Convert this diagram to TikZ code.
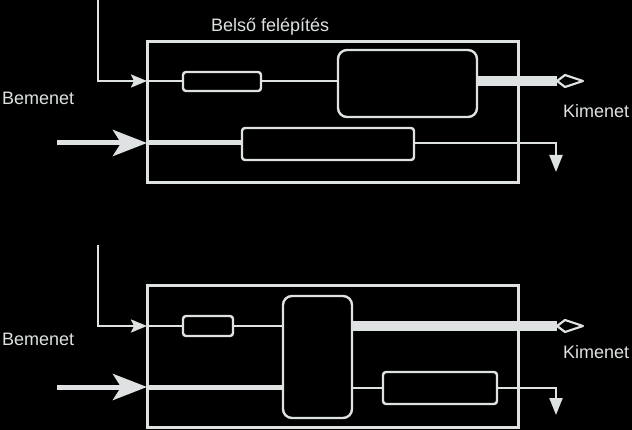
\documentclass[tikz,border=0pt]{standalone}
\usepackage{fontspec}
\setmainfont{Liberation Sans}
\usetikzlibrary{arrows.meta}
\definecolor{fg}{RGB}{222,226,226}
\begin{document}
\begin{tikzpicture}[x=1pt,y=-1pt,
  every node/.style={inner sep=0pt, outer sep=0pt},
  frame/.style={draw=fg, line width=3pt, rectangle},
  blk/.style={draw=fg, line width=2.4pt, rectangle, rounded corners=3pt},
  bigblk/.style={draw=fg, line width=2.4pt, rectangle, rounded corners=9pt},
  wire/.style={draw=fg, line width=2.2pt},
  thin in/.style={wire, -{Stealth[length=16pt, width=13pt, inset=3pt, fill=fg]}},
  thick in/.style={draw=fg, line width=5pt, -{Stealth[length=34pt, width=26pt, inset=8pt, fill=fg]}},
  thick wire/.style={draw=fg, line width=5pt},
  thick line/.style={draw=fg, line width=10pt},
  kite/.style={draw=fg, line width=2.2pt, line join=round, fill=black},
  drop/.style={wire, -{Triangle[length=17pt, width=13pt, fill=fg]}},
  lbl/.style={text=fg, font=\fontsize{18pt}{20pt}\selectfont, anchor=base west}
]
\fill[black] (0,0) rectangle (632,430);
\useasboundingbox (0,0) rectangle (632,430);

% ---------- top diagram ----------
\node[lbl] (title) at (211,32) {Belső felépítés};
\node[lbl] (bem1) at (2,105) {Bemenet};
\node[lbl] (kim1) at (563,118) {Kimenet};

\node[frame, minimum width=371pt, minimum height=141pt] (outer1) at (332.5,112.5) {};
\node[blk, minimum width=78pt, minimum height=19pt] (sA) at (222,81.5) {};
\node[bigblk, minimum width=139pt, minimum height=67pt] (bigA) at (407.5,83.5) {};
\node[blk, minimum width=172pt, minimum height=32pt] (sB) at (328,144) {};

\coordinate (inTop1) at (98,0);
\coordinate (inCorner1) at (98,81);
\coordinate (inEdge1) at (147,81);
\coordinate (thkStart1) at (57,143);
\coordinate (thkEdge1) at (147,143);
\coordinate (kiteBack1) at (557,81);
\coordinate (dropCorner1) at (556,143);
\coordinate (dropEnd1) at (556,172);

\draw[thin in] (inTop1) -- (inCorner1) -- (inEdge1);
\draw[wire] (inEdge1) -- (sA.west |- inEdge1);
\draw[wire] (sA.east |- inEdge1) -- (bigA.west |- inEdge1);
\draw[thick in] (thkStart1) -- (thkEdge1);
\draw[thick wire] (thkEdge1) -- (sB.west |- thkEdge1);
\draw[thick line] (bigA.east |- kiteBack1) -- (kiteBack1);
\draw[kite] (kiteBack1) -- ++(8,-6) -- ++(18,6) -- ++(-18,6) -- cycle;
\draw[drop] (sB.east |- dropCorner1) -- (dropCorner1) -- (dropEnd1);

% ---------- bottom diagram ----------
\node[lbl] (bem2) at (2,345) {Bemenet};
\node[lbl] (kim2) at (563,359) {Kimenet};

\node[frame, minimum width=371pt, minimum height=141pt] (outer2) at (332.5,356.5) {};
\node[blk, minimum width=50pt, minimum height=20pt] (sC) at (208,326) {};
\node[bigblk, minimum width=69pt, minimum height=122pt] (tall) at (317.5,357) {};
\node[blk, minimum width=114pt, minimum height=32pt] (sD) at (440,388) {};

\coordinate (inTop2) at (98,245);
\coordinate (inCorner2) at (98,326);
\coordinate (inEdge2) at (147,326);
\coordinate (thkStart2) at (57,387);
\coordinate (thkEdge2) at (147,387);
\coordinate (kiteBack2) at (557,326);
\coordinate (dropCorner2) at (556,388);
\coordinate (dropEnd2) at (556,415);

\draw[thin in] (inTop2) -- (inCorner2) -- (inEdge2);
\draw[wire] (inEdge2) -- (sC.west |- inEdge2);
\draw[wire] (sC.east |- inEdge2) -- (tall.west |- inEdge2);
\draw[thick in] (thkStart2) -- (thkEdge2);
\draw[thick wire] (thkEdge2) -- (tall.west |- thkEdge2);
\draw[thick line] (tall.east |- kiteBack2) -- (kiteBack2);
\draw[kite] (kiteBack2) -- ++(8,-6) -- ++(18,6) -- ++(-18,6) -- cycle;
\draw[wire] (tall.east |- dropCorner2) -- (sD.west |- dropCorner2);
\draw[drop] (sD.east |- dropCorner2) -- (dropCorner2) -- (dropEnd2);
\end{tikzpicture}
\end{document}
